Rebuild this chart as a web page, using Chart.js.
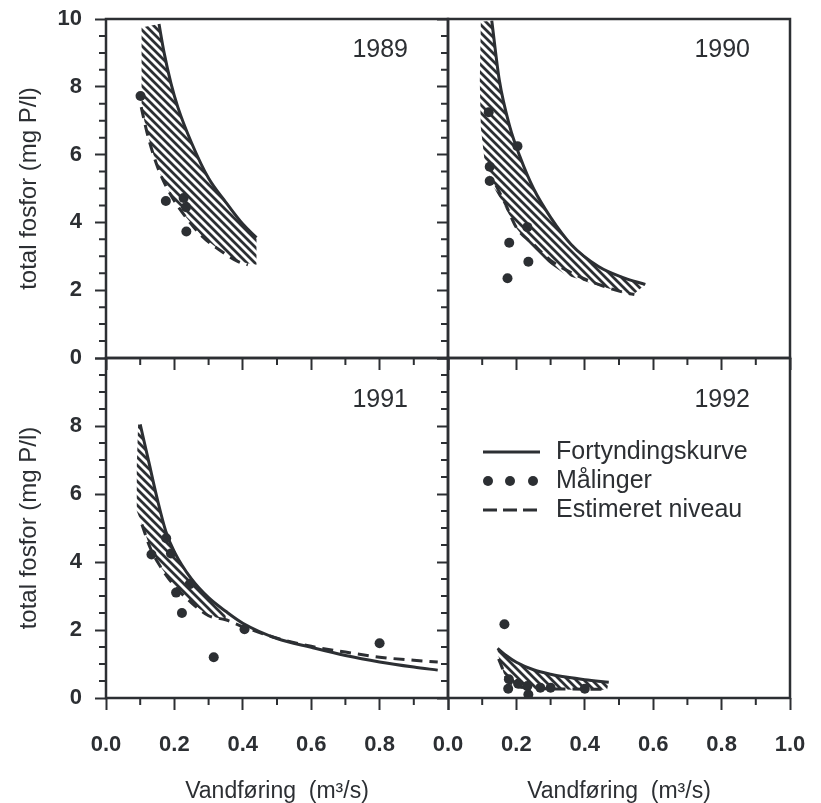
<!DOCTYPE html>
<html>
<head>
<meta charset="utf-8">
<script src="https://cdn.jsdelivr.net/npm/chart.js@4.4.0/dist/chart.umd.min.js"></script>
<style>
  html, body { margin: 0; padding: 0; background: #fff; }
  #wrap { position: relative; width: 821px; height: 803px; }
  #wrap canvas { position: absolute; left: 0; top: 0; }
</style>
</head>
<body>
<div id="wrap">
  <canvas id="p89" width="821" height="803"></canvas>
  <canvas id="p90" width="821" height="803"></canvas>
  <canvas id="p91" width="821" height="803"></canvas>
  <canvas id="p92" width="821" height="803"></canvas>
</div>
<script>
/* Fortyndingskurve / målinger / estimeret niveau, 1989-1992 */

var INK = '#2c2f33';
var FONT = "'Liberation Sans', Arial, Helvetica, sans-serif";

/* tick labels */
var xLabelsLeft  = ['0.0', '0.2', '0.4', '0.6', '0.8', ''];
var xLabelsRight = ['0.0', '0.2', '0.4', '0.6', '0.8', '1.0'];
var xLabelsNone  = ['', '', '', '', '', ''];
var yLabelsTop    = ['0', '2', '4', '6', '8', '10'];
var yLabelsBottom = ['0', '2', '4', '6', '8', ''];
var yLabelsNone   = ['', '', '', '', '', ''];

/* 1989 */
var solid89  = [[0.155, 9.85], [0.17, 9.0], [0.19, 8.1], [0.21, 7.4], [0.25, 6.35], [0.3, 5.3], [0.35, 4.6], [0.4, 3.95], [0.44, 3.55]];
var lower89  = [[0.105, 9.75], [0.103, 8.6], [0.103, 7.4], [0.12, 6.65], [0.14, 5.95], [0.16, 5.4], [0.19, 4.8], [0.23, 4.2], [0.28, 3.6], [0.33, 3.2], [0.385, 2.85], [0.44, 2.75]];
var dashed89 = [[0.103, 7.4], [0.12, 6.65], [0.14, 5.95], [0.16, 5.4], [0.19, 4.8], [0.23, 4.2], [0.28, 3.6], [0.33, 3.2], [0.385, 2.85], [0.415, 2.75]];
var dots89   = [[0.101, 7.73], [0.175, 4.63], [0.227, 4.72], [0.234, 4.45], [0.235, 3.73]];

/* 1990 */
var solid90  = [[0.128, 9.95], [0.15, 8.2], [0.18, 6.85], [0.21, 5.95], [0.25, 5.0], [0.3, 4.15], [0.36, 3.35], [0.44, 2.7], [0.51, 2.38], [0.577, 2.17]];
var lower90  = [[0.096, 9.92], [0.093, 8.15], [0.096, 6.8], [0.106, 5.9], [0.13, 5.1], [0.164, 4.5], [0.2, 3.83], [0.24, 3.33], [0.29, 2.84], [0.345, 2.45], [0.42, 2.2], [0.5, 1.96], [0.54, 1.86]];
var dashed90 = [[0.14, 5.1], [0.17, 4.5], [0.2, 3.85], [0.25, 3.35], [0.3, 2.88], [0.36, 2.52], [0.44, 2.17], [0.52, 1.92], [0.545, 1.87]];
var dots90   = [[0.119, 7.25], [0.203, 6.25], [0.122, 5.64], [0.122, 5.22], [0.232, 3.86], [0.179, 3.4], [0.235, 2.84], [0.174, 2.35]];

/* 1991 */
var solid91  = [[0.1, 8.05], [0.125, 6.95], [0.15, 5.85], [0.175, 4.9], [0.2, 4.3], [0.25, 3.5], [0.3, 2.95], [0.35, 2.55], [0.4, 2.2], [0.5, 1.75], [0.6, 1.49], [0.7, 1.25], [0.8, 1.06], [0.9, 0.91], [0.97, 0.82]];
var lower91  = [[0.094, 8.08], [0.09, 6.8], [0.09, 5.5], [0.105, 5.1], [0.13, 4.4], [0.16, 3.85], [0.2, 3.3], [0.25, 2.8], [0.3, 2.42], [0.35, 2.3]];
var dashed91 = [[0.105, 5.1], [0.13, 4.4], [0.16, 3.85], [0.2, 3.3], [0.25, 2.8], [0.3, 2.42], [0.35, 2.3], [0.4, 2.1], [0.5, 1.76], [0.6, 1.52], [0.7, 1.35], [0.8, 1.2], [0.9, 1.11], [0.97, 1.06]];
var dots91   = [[0.133, 4.22], [0.176, 4.7], [0.19, 4.25], [0.205, 3.1], [0.222, 2.5], [0.245, 3.35], [0.315, 1.2], [0.405, 2.02], [0.8, 1.61]];

/* 1992 */
var solid92  = [[0.145, 1.46], [0.17, 1.25], [0.2, 1.05], [0.25, 0.83], [0.3, 0.7], [0.35, 0.61], [0.4, 0.54], [0.47, 0.46]];
var lower92  = [[0.145, 1.3], [0.155, 1.0], [0.165, 0.65], [0.18, 0.38], [0.22, 0.27], [0.3, 0.25], [0.4, 0.24], [0.465, 0.24]];
var dashed92 = [[0.148, 1.15], [0.16, 0.85], [0.17, 0.6], [0.19, 0.4], [0.23, 0.3], [0.3, 0.27], [0.4, 0.26], [0.46, 0.26]];
var dots92   = [[0.165, 2.17], [0.178, 0.55], [0.176, 0.27], [0.205, 0.42], [0.232, 0.35], [0.235, 0.1], [0.27, 0.3], [0.3, 0.3], [0.4, 0.27]];

var legendItems = ['Fortyndingskurve', 'Målinger', 'Estimeret niveau'];

function pts(a) { return a.map(function (p) { return { x: p[0], y: p[1] }; }); }

function makeHatch() {
  var s = 8, c = document.createElement('canvas');
  c.width = s; c.height = s;
  var g = c.getContext('2d');
  g.strokeStyle = INK; g.lineWidth = 2.8;
  g.beginPath();
  g.moveTo(-1, -1); g.lineTo(s + 1, s + 1);
  g.moveTo(s - 2, -2); g.lineTo(s + 2, 2);
  g.moveTo(-2, s - 2); g.lineTo(2, s + 2);
  g.stroke();
  return g.createPattern(c, 'repeat');
}
var HATCH = makeHatch();

/* frame, minor ticks, year label, legend */
var panelDeco = {
  id: 'panelDeco',
  afterDraw: function (chart, args, opts) {
    var ctx = chart.ctx, a = chart.chartArea, xs = chart.scales.x, ys = chart.scales.y;
    ctx.save();
    ctx.strokeStyle = INK;
    ctx.lineWidth = 2;
    ctx.beginPath();
    for (var i = 1; i < 10; i += 2) {
      var px = xs.getPixelForValue(i / 10);
      ctx.moveTo(px, a.bottom); ctx.lineTo(px, a.bottom + 7);
    }
    for (var j = 1; j < 20; j++) {
      if (j % 4 === 0) continue;
      var py = ys.getPixelForValue(j / 2);
      ctx.moveTo(a.left - 7, py); ctx.lineTo(a.left, py);
    }
    ctx.stroke();
    ctx.lineWidth = 2.5;
    ctx.strokeRect(a.left, a.top, a.right - a.left, a.bottom - a.top);

    ctx.fillStyle = INK;
    ctx.font = '25px ' + FONT;
    ctx.textAlign = 'right';
    ctx.textBaseline = 'middle';
    ctx.fillText(opts.year, a.right - 40, a.top + opts.yearDy);

    if (opts.legend) {
      var lx = a.left + 35, tx = a.left + 108;
      var rows = [a.top + 94, a.top + 123, a.top + 152];
      ctx.textAlign = 'left';
      ctx.font = '25px ' + FONT;
      ctx.lineWidth = 3;
      ctx.beginPath(); ctx.moveTo(lx, rows[0]); ctx.lineTo(lx + 57, rows[0]); ctx.stroke();
      [5, 27, 50].forEach(function (d) {
        ctx.beginPath(); ctx.arc(lx + d, rows[1], 5, 0, Math.PI * 2); ctx.fill();
      });
      ctx.setLineDash([14, 6]);
      ctx.beginPath(); ctx.moveTo(lx, rows[2]); ctx.lineTo(lx + 57, rows[2]); ctx.stroke();
      ctx.setLineDash([]);
      legendItems.forEach(function (t, k) { ctx.fillText(t, tx, rows[k]); });
    }
    ctx.restore();
  }
};

function panel(id, o) {
  var band = o.solid.filter(function (p) { return p[0] <= o.bandEnd; }).concat(o.lower.slice().reverse());
  var tickFont = { family: FONT, size: 22, weight: 'bold' };
  new Chart(document.getElementById(id), {
    type: 'line',
    data: {
      datasets: [
        { data: pts(band), fill: 'shape', backgroundColor: HATCH, borderColor: 'rgba(0,0,0,0)', borderWidth: 0, pointRadius: 0, tension: 0, order: 3 },
        { data: pts(o.solid), borderColor: INK, borderWidth: 3, pointRadius: 0, cubicInterpolationMode: 'monotone', fill: false, order: 1 },
        { data: pts(o.dashed), borderColor: INK, borderWidth: 3, borderDash: [11, 7], pointRadius: 0, cubicInterpolationMode: 'monotone', fill: false, order: 1 },
        { data: pts(o.dots), showLine: false, pointRadius: 5, pointBackgroundColor: INK, pointBorderWidth: 0, order: 0 }
      ]
    },
    options: {
      responsive: false,
      devicePixelRatio: 1,
      animation: false,
      layout: { padding: {
        left: o.col ? 348 : 6, right: o.col ? 31 : 373,
        top: o.row ? 358 : 19, bottom: o.row ? 0 : 405 } },
      plugins: {
        legend: { display: false },
        tooltip: { enabled: false },
        panelDeco: { year: o.year, yearDy: o.row ? 42 : 31, legend: !!o.legend }
      },
      scales: {
        x: {
          type: 'linear', min: 0, max: 1,
          afterFit: function (s) { s.height = o.row ? 105 : 40; s.paddingLeft = 0; s.paddingRight = 0; },
          border: { display: false },
          grid: { drawOnChartArea: false, drawTicks: true, tickLength: 12, tickColor: INK, tickWidth: 2 },
          ticks: { stepSize: 0.2, padding: 22, color: INK, font: tickFont, maxRotation: 0, autoSkip: false,
                   callback: function (v, i) { return o.xLabels[i]; } },
          title: { display: !!o.row, text: 'Vandføring  (m³/s)', color: INK,
                   font: { family: FONT, size: 23, lineHeight: 1 }, padding: { top: 0, bottom: 0 } }
        },
        y: {
          type: 'linear', min: 0, max: 10,
          afterFit: function (s) { s.width = 100; s.paddingTop = 0; s.paddingBottom = 0; },
          border: { display: false },
          grid: { drawOnChartArea: false, drawTicks: true, tickLength: 11, tickColor: INK, tickWidth: 2 },
          ticks: { stepSize: 2, padding: 13, color: INK, font: tickFont, autoSkip: false,
                   callback: function (v, i) { return o.yLabels[i]; } },
          title: { display: !o.col, text: 'total fosfor (mg P/l)', color: INK,
                   font: { family: FONT, size: 24, lineHeight: 1 }, padding: { top: 11, bottom: 0 } }
        }
      }
    },
    plugins: [panelDeco]
  });
}

panel('p89', { row: 0, col: 0, year: '1989', solid: solid89, lower: lower89, dashed: dashed89, dots: dots89, bandEnd: 1,
               xLabels: xLabelsNone, yLabels: yLabelsTop });
panel('p90', { row: 0, col: 1, year: '1990', solid: solid90, lower: lower90, dashed: dashed90, dots: dots90, bandEnd: 1,
               xLabels: xLabelsNone, yLabels: yLabelsNone });
panel('p91', { row: 1, col: 0, year: '1991', solid: solid91, lower: lower91, dashed: dashed91, dots: dots91, bandEnd: 0.35,
               xLabels: xLabelsLeft, yLabels: yLabelsBottom });
panel('p92', { row: 1, col: 1, year: '1992', solid: solid92, lower: lower92, dashed: dashed92, dots: dots92, bandEnd: 1,
               xLabels: xLabelsRight, yLabels: yLabelsNone, legend: true });
</script>
</body>
</html>
